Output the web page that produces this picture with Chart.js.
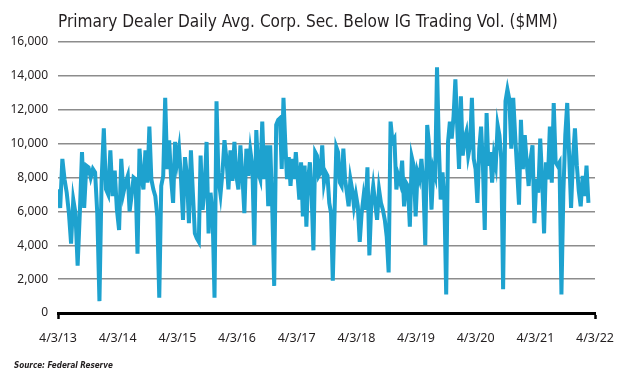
<!DOCTYPE html>
<html>
<head>
<meta charset="utf-8">
<script src="https://cdn.jsdelivr.net/npm/chart.js@4.4.1/dist/chart.umd.min.js"></script>
<style>
  html, body { margin: 0; padding: 0; background: #fff; }
  #wrap { width: 626px; height: 377px; position: relative; }
</style>
</head>
<body>
<div id="wrap"><canvas id="chart"></canvas></div>
<script>
// x axis tick labels (one per year, 4/3/13 .. 4/3/22)
const tickLabels = ["4/3/13", "4/3/14", "4/3/15", "4/3/16", "4/3/17", "4/3/18", "4/3/19", "4/3/20", "4/3/21", "4/3/22"];

// volume, in stretches (years since 4/3/13 where each stretch starts / ends)
const segStart = [0.0, 1.2, 2.39, 3.72, 4.96, 6.26, 7.5];
const segEnd   = [1.17, 2.36, 3.69, 4.93, 6.22, 7.46, 8.89];

const vol1 = [7300, 6200, 9100, 7900, 7100, 5900, 4100, 6700, 5900, 2800, 5900, 9500, 6200, 8700, 8600, 8000, 8500,
  8300, 5900, 700, 7900, 10900, 7300, 7000, 9600, 6900, 8400, 6100, 4900, 9100, 7100, 7700, 8100];
const vol2 = [6000, 6900, 8000, 7900, 3500, 9700, 8100, 7300, 9600, 7700, 11000, 7900, 7300, 6900, 5700, 900, 7500,
  8100, 12700, 8500, 10200, 7900, 6500, 10100, 8900, 9700, 7900, 5500, 9200, 8100, 5300, 9600, 7100, 4700, 4400, 4200];
const vol3 = [9300, 6100, 7300, 10100, 4700, 7100, 5900, 900, 12500, 7900, 7000, 8300, 10200, 9100, 7300, 9600, 7800,
  10100, 8100, 7300, 9900, 8100, 5900, 9700, 8100, 9600, 8700, 4000, 10800, 8300, 7900, 11300, 7900, 9900, 6300, 9900,
  6300, 1600, 11100, 11400];
const vol4 = [11500, 8500, 12700, 10100, 7900, 9200, 7500, 9100, 7900, 9500, 8100, 6700, 8900, 5700, 8700, 5100, 7900,
  8900, 6900, 3700, 9500, 9300, 8100, 8300, 9900, 7700, 8300, 8100, 6500, 5900, 1900, 5900, 9800, 9500, 7700, 7500,
  9700, 7900, 7100, 6300, 7900, 7300];
const vol5 = [6300, 7000, 6300, 4200, 5900, 6900, 6100, 8600, 3400, 6500, 7500, 6500, 5500, 7300, 6500, 6100, 5500,
  4500, 2400, 11300, 10100, 10300, 7300, 8100, 7700, 9000, 6300, 7700, 7500, 5100, 9200, 8700, 5700, 8300, 7900, 9100,
  7700, 4000, 11100, 9900];
const vol6 = [6100, 8500, 8100, 14500, 9900, 6700, 8300, 6700, 1100, 10100, 11300, 10300, 11600, 13800, 11000, 8500,
  12800, 9300, 10300, 10700, 9300, 9900, 12700, 9100, 8500, 6500, 9700, 11000, 8700, 4900, 11800, 8700, 9500, 7700,
  9300, 8700, 11100, 10500, 9100, 1400];
const vol7 = [12500, 13200, 12600, 9700, 12700, 10500, 8500, 6400, 11400, 8500, 10500, 8900, 7500, 9100, 9900, 5300,
  7900, 7100, 10300, 7900, 4700, 8900, 7900, 11000, 7700, 12400, 8900, 8700, 8900, 1100, 7100, 10500, 12400, 9300,
  6200, 9100, 10900, 8700, 7200, 6300, 8100, 6900, 8700, 6500];

const segments = [vol1, vol2, vol3, vol4, vol5, vol6, vol7];

// build {x, y} points, spacing each stretch evenly between its start and end
const points = [];
segments.forEach((vals, s) => {
  const step = (segEnd[s] - segStart[s]) / (vals.length - 1);
  vals.forEach((v, i) => points.push({ x: segStart[s] + i * step, y: v }));
});

const titleText = "Primary Dealer Daily Avg. Corp. Sec. Below IG Trading Vol. ($MM)";
const sourceText = "Source: Federal Reserve";
const ink = "#231f20";

function fitFont(ctx, text, style, family, width) {
  let size = 20;
  ctx.font = style + " " + size + "px " + family;
  size = size * width / ctx.measureText(text).width;
  return style + " " + size.toFixed(2) + "px " + family;
}

const textPlugin = {
  id: "texts",
  afterDraw(chart) {
    const ctx = chart.ctx;
    ctx.save();
    ctx.fillStyle = ink;
    ctx.textAlign = "left";
    ctx.textBaseline = "alphabetic";
    ctx.font = fitFont(ctx, titleText, "normal", "'Liberation Sans Narrow', 'DejaVu Sans Condensed', sans-serif", 500);
    ctx.fillText(titleText, 58, 27);
    ctx.font = fitFont(ctx, sourceText, "italic bold", "'Liberation Sans Narrow', 'DejaVu Sans Condensed', sans-serif", 99);
    ctx.fillText(sourceText, 14, 368);
    ctx.restore();
  }
};

new Chart(document.getElementById("chart"), {
  type: "line",
  data: {
    datasets: [{
      data: points,
      borderColor: "#1ea2cf",
      borderWidth: 4,
      pointRadius: 0,
      tension: 0,
      fill: false
    }]
  },
  options: {
    responsive: true,
    maintainAspectRatio: false,
    devicePixelRatio: 1,
    animation: false,
    events: [],
    layout: { padding: { top: 42, left: 0, right: 31, bottom: 30 } },
    plugins: { legend: { display: false }, tooltip: { enabled: false } },
    scales: {
      x: {
        type: "linear",
        min: 0,
        max: 9,
        afterFit: (scale) => { scale.height = 34; },
        border: { display: true, color: "#000", width: 3 },
        grid: {
          drawOnChartArea: false,
          drawTicks: true,
          tickLength: 6,
          tickWidth: 2.5,
          tickColor: (c) => (c.tick && (c.tick.value === 0 || c.tick.value === 9)) ? "#000" : "rgba(0,0,0,0)"
        },
        ticks: {
          stepSize: 1,
          autoSkip: false,
          maxRotation: 0,
          padding: 12,
          color: ink,
          font: { family: "'Noto Sans', sans-serif", size: 12.5 },
          callback: (v) => tickLabels[v]
        }
      },
      y: {
        min: 0,
        max: 16000,
        afterFit: (scale) => { scale.width = 58; },
        border: { display: false },
        grid: {
          drawTicks: false,
          lineWidth: 1.5,
          color: (c) => (c.tick && c.tick.value === 0) ? "rgba(0,0,0,0)" : "#8c8c8c"
        },
        ticks: {
          stepSize: 2000,
          padding: 10,
          color: ink,
          font: { family: "'Noto Sans', sans-serif", size: 12 },
          callback: (v) => v.toLocaleString("en-US")
        }
      }
    }
  },
  plugins: [textPlugin]
});
</script>
</body>
</html>
